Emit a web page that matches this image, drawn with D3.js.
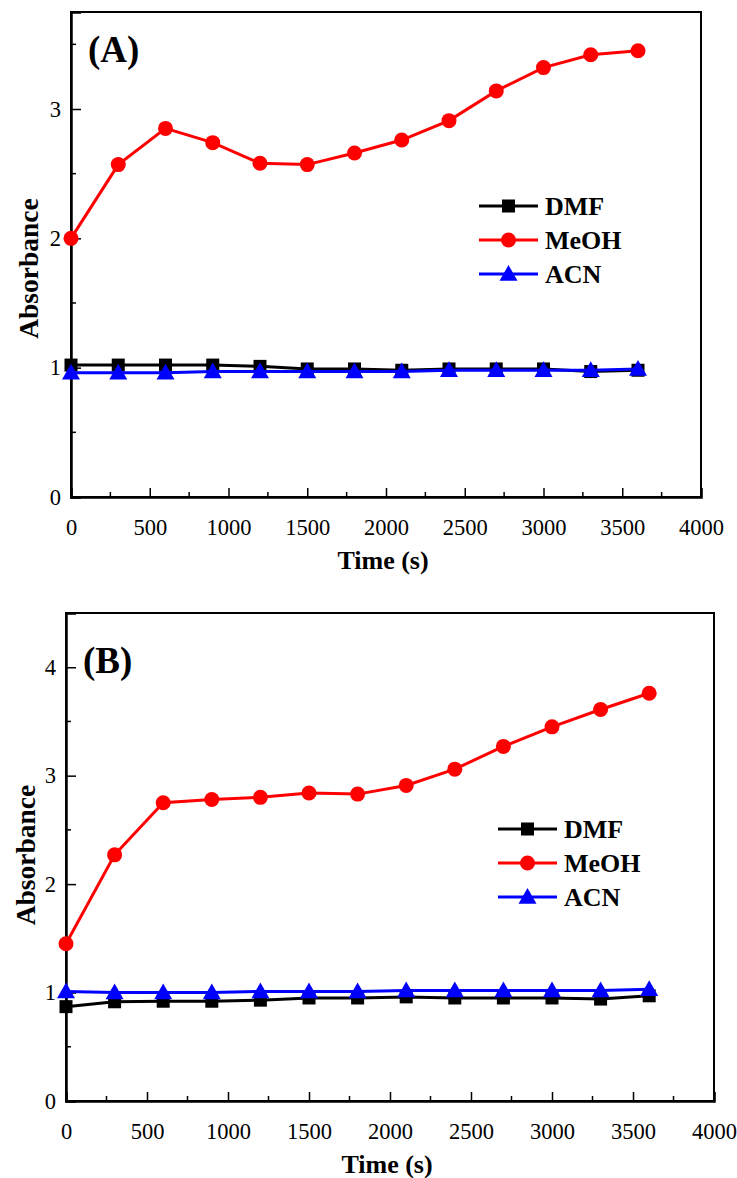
<!DOCTYPE html>
<html>
<head>
<meta charset="utf-8">
<script src="https://cdn.jsdelivr.net/npm/d3@7"></script>
<style>
  html, body { margin: 0; padding: 0; background: #fff; }
  svg { display: block; }
</style>
</head>
<body>
<svg id="chart" width="737" height="1178"></svg>
<script>
// Sampling times (s)
const times = [0, 300, 600, 900, 1200, 1500, 1800, 2100, 2400, 2700, 3000, 3300, 3600];

// Panel A absorbance
const dmfA  = [1.02, 1.02, 1.02, 1.02, 1.01, 0.99, 0.99, 0.98, 0.99, 0.99, 0.99, 0.97, 0.98];
const meohA = [2.00, 2.57, 2.85, 2.74, 2.58, 2.57, 2.66, 2.76, 2.91, 3.14, 3.32, 3.42, 3.45];
const acnA  = [0.96, 0.96, 0.96, 0.97, 0.97, 0.97, 0.97, 0.97, 0.98, 0.98, 0.98, 0.98, 0.99];

// Panel B absorbance
const dmfB  = [0.87, 0.915, 0.92, 0.92, 0.93, 0.95, 0.95, 0.96, 0.95, 0.95, 0.95, 0.94, 0.97];
const meohB = [1.45, 2.27, 2.75, 2.78, 2.80, 2.84, 2.83, 2.91, 3.06, 3.27, 3.45, 3.61, 3.76];
const acnB  = [1.01, 1.00, 1.00, 1.00, 1.01, 1.01, 1.01, 1.02, 1.02, 1.02, 1.02, 1.02, 1.03];

const seriesNames = ["DMF", "MeOH", "ACN"];
const seriesColors = ["#000000", "#ff0000", "#0000ff"];
const seriesShapes = ["square", "circle", "triangle"];

const xTicks = [0, 500, 1000, 1500, 2000, 2500, 3000, 3500, 4000];

const svg = d3.select("#chart");
const serif = "'Liberation Serif', 'Times New Roman', serif";

function marker(g, shape, color, cx, cy) {
  if (shape === "square") {
    g.append("rect").attr("x", cx - 6.5).attr("y", cy - 6.5)
      .attr("width", 13).attr("height", 13).attr("fill", color);
  } else if (shape === "circle") {
    g.append("circle").attr("cx", cx).attr("cy", cy).attr("r", 7.5).attr("fill", color);
  } else {
    const s = 9;
    g.append("path")
      .attr("d", `M${cx},${cy - s} L${cx + s},${cy + s * 0.75} L${cx - s},${cy + s * 0.75} Z`)
      .attr("fill", color);
  }
}

function panel(opts) {
  const { left, right, top, bottom, yMax, yTicks, data, tag, legend, yTitleX, yTitleShift } = opts;
  const g = svg.append("g");
  const x = d3.scaleLinear().domain([0, 4000]).range([left, right]);
  const y = d3.scaleLinear().domain([0, yMax]).range([bottom, top]);

  // frame
  g.append("rect").attr("x", left).attr("y", top)
    .attr("width", right - left).attr("height", bottom - top)
    .attr("fill", "none").attr("stroke", "#000").attr("stroke-width", 2);

  // x axis (ticks point inward)
  const xAxis = g.append("g").attr("transform", `translate(0,${bottom})`)
    .call(d3.axisBottom(x).tickValues(xTicks).tickSize(-9).tickPadding(22).tickFormat(d3.format("d")));
  xAxis.select(".domain").attr("stroke-width", 2.5);
  xAxis.selectAll(".tick line").attr("stroke-width", 1.5);
  xAxis.selectAll("text").attr("font-family", serif).attr("font-size", 22.5).attr("fill", "#000");
  // minor x ticks
  g.append("g").selectAll("line").data(d3.range(250, 4000, 500)).join("line")
    .attr("x1", d => x(d)).attr("x2", d => x(d))
    .attr("y1", bottom).attr("y2", bottom - 5)
    .attr("stroke", "#000").attr("stroke-width", 1.5);

  // y axis
  const yAxis = g.append("g").attr("transform", `translate(${left},0)`)
    .call(d3.axisLeft(y).tickValues(yTicks).tickSize(-10).tickPadding(10).tickFormat(d3.format("d")));
  yAxis.select(".domain").attr("stroke-width", 2.5);
  yAxis.selectAll(".tick line").attr("stroke-width", 1.5);
  yAxis.selectAll("text").attr("font-family", serif).attr("font-size", 22.5).attr("fill", "#000");
  const minorY = d3.range(0.5, yMax, 1);
  g.append("g").selectAll("line").data(minorY).join("line")
    .attr("x1", left).attr("x2", left + 5)
    .attr("y1", d => y(d)).attr("y2", d => y(d))
    .attr("stroke", "#000").attr("stroke-width", 1.5);

  // axis titles
  g.append("text").attr("x", (left + right) / 2 - 3).attr("y", bottom + 72)
    .attr("text-anchor", "middle").attr("font-family", serif)
    .attr("font-weight", "bold").attr("font-size", 26).text("Time (s)");
  g.append("text")
    .attr("transform", `translate(${yTitleX},${(top + bottom) / 2 + yTitleShift}) rotate(-90)`)
    .attr("text-anchor", "middle").attr("font-family", serif)
    .attr("font-weight", "bold").attr("font-size", 27.5).text("Absorbance");

  // panel tag
  g.append("text").attr("x", left + 17).attr("y", tag.y)
    .attr("font-family", serif).attr("font-weight", "bold").attr("font-size", 37).text(tag.text);

  // series: DMF, MeOH, then ACN on top
  const line = d3.line().x((d, i) => x(times[i])).y(d => y(d));
  data.forEach((vals, k) => {
    const sg = g.append("g");
    sg.append("path").datum(vals).attr("d", line)
      .attr("fill", "none").attr("stroke", seriesColors[k]).attr("stroke-width", 3);
    vals.forEach((v, i) => marker(sg, seriesShapes[k], seriesColors[k], x(times[i]), y(v)));
  });

  // legend
  seriesNames.forEach((name, k) => {
    const ly = legend.y + k * 34;
    const lg = g.append("g");
    lg.append("line").attr("x1", legend.x).attr("x2", legend.x + 59)
      .attr("y1", ly).attr("y2", ly).attr("stroke", seriesColors[k]).attr("stroke-width", 3);
    marker(lg, seriesShapes[k], seriesColors[k], legend.x + 29.5, ly);
    lg.append("text").attr("x", legend.x + 66).attr("y", ly + 9)
      .attr("font-family", serif).attr("font-weight", "bold").attr("font-size", 26).text(name);
  });
}

panel({
  left: 71, right: 701, top: 12, bottom: 497, yMax: 3.75, yTicks: [0, 1, 2, 3],
  data: [dmfA, meohA, acnA],
  tag: { text: "(A)", y: 62 },
  legend: { x: 479, y: 206 },
  yTitleX: 38, yTitleShift: 14
});

panel({
  left: 66, right: 714, top: 613, bottom: 1101, yMax: 4.5, yTicks: [0, 1, 2, 3, 4],
  data: [dmfB, meohB, acnB],
  tag: { text: "(B)", y: 673 },
  legend: { x: 498, y: 829 },
  yTitleX: 35, yTitleShift: -2
});
</script>
</body>
</html>
